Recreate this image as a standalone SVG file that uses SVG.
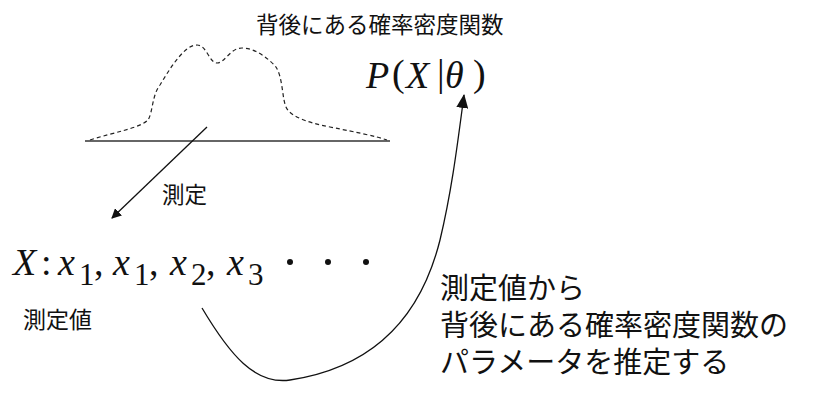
<svg xmlns="http://www.w3.org/2000/svg" width="826" height="406" viewBox="0 0 826 406">
<style>
.jp{font-family:"Noto Sans CJK JP","Noto Sans",sans-serif;fill:#111;}
.m{font-family:"Liberation Serif","DejaVu Serif",serif;font-style:italic;fill:#111;}
.mu{font-family:"Liberation Serif","DejaVu Serif",serif;fill:#111;}
.ln{fill:none;stroke:#111;stroke-width:1.3;}
</style>
<defs>
<marker id="ah" markerWidth="10" markerHeight="10" refX="9" refY="5" orient="auto" markerUnits="userSpaceOnUse" viewBox="0 0 10 10">
<path d="M0,0 L10,5 L0,10 z" fill="#111"/>
</marker>
<marker id="ah2" markerWidth="14" markerHeight="12" refX="13" refY="6" orient="auto" markerUnits="userSpaceOnUse" viewBox="0 0 14 12">
<path d="M0,0 L14,6 L0,12 z" fill="#111"/>
</marker>
</defs>
<rect width="826" height="406" fill="#fff"/>
<g id="distribution">
<text class="jp" x="256" y="33" font-size="22.5">背後にある確率密度関数</text>
<path d="M90,140 C115,132 140,128 148,120 C153,112 152,95 160,85 C172,65 185,45 197,45 C207,45 209,63 217,63 C225,63 230,48 242,48 C255,48 268,58 276,67 C283,78 282,98 286,107 C290,116 305,122 330,127 C360,133 375,136 387,140" fill="none" stroke="#222" stroke-width="1.2" stroke-dasharray="4,3"/>
<line x1="85" y1="141" x2="390" y2="141" stroke="#333" stroke-width="1.5"/>
</g>
<g id="pdf">
<text class="m" x="366" y="88" font-size="38">P</text>
<text class="mu" x="392" y="86" font-size="38">(</text>
<text class="m" x="406" y="88" font-size="38">X</text>
<text class="mu" x="437" y="86" font-size="38">|</text>
<text class="m" x="445" y="88" font-size="38">θ</text>
<text class="mu" x="473" y="86" font-size="38">)</text>
</g>
<g id="samples">
<text class="m" x="13" y="275" font-size="38">X</text>
<text class="mu" x="41" y="275" font-size="38">:</text>
<text class="m" x="58" y="275" font-size="38">x</text>
<text class="mu" x="79" y="285" font-size="31">1</text>
<text class="mu" x="94" y="275" font-size="38">,</text>
<text class="m" x="113" y="275" font-size="38">x</text>
<text class="mu" x="134" y="285" font-size="31">1</text>
<text class="mu" x="149" y="275" font-size="38">,</text>
<text class="m" x="170" y="275" font-size="38">x</text>
<text class="mu" x="191" y="285" font-size="31">2</text>
<text class="mu" x="206" y="275" font-size="38">,</text>
<text class="m" x="227" y="275" font-size="38">x</text>
<text class="mu" x="248" y="285" font-size="31">3</text>
<circle cx="290" cy="262" r="3" fill="#111"/>
<circle cx="328" cy="262" r="3" fill="#111"/>
<circle cx="366" cy="262" r="3" fill="#111"/>
<text class="jp" x="23" y="328" font-size="23">測定値</text>
</g>
<g id="measure-label">
<text class="jp" x="162" y="203" font-size="22.5">測定</text>
</g>
<g id="estimate-label">
<text class="jp" x="440" y="299" font-size="29">測定値から</text>
<text class="jp" x="440" y="336" font-size="29">背後にある確率密度関数の</text>
<text class="jp" x="440" y="373" font-size="29">パラメータを推定する</text>
</g>
<g id="connectors">
<line class="ln" x1="207" y1="127" x2="112" y2="218" marker-end="url(#ah)"/>
<path class="ln" d="M202,308 C230,355 255,385 290,380 C370,368 420,320 440,240 C452,190 458,140 464,95" marker-end="url(#ah2)"/>
</g>
</svg>
